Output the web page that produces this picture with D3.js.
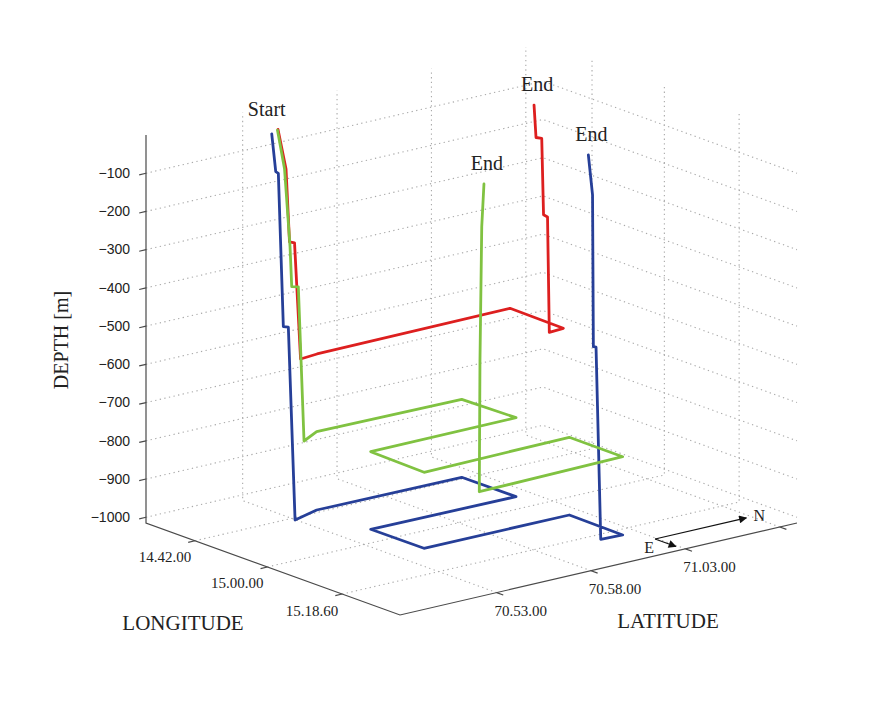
<!DOCTYPE html>
<html>
<head>
<meta charset="utf-8">
<script src="https://cdn.jsdelivr.net/npm/d3@7"></script>
<style>
  html, body { margin: 0; padding: 0; background: #fff; }
  svg { display: block; }
</style>
</head>
<body>
<svg id="chart" width="869" height="709"></svg>
<script>
// ---------------- DATA ----------------
// Axis domains (decimal degrees / metres)
const lonDomain = [14.4967, 15.55];
const latDomain = [70.798, 71.1485];
const depthDomain = [-1015, 0];

// Tick values and labels
const depthTicks = [-100, -200, -300, -400, -500, -600, -700, -800, -900, -1000];
const lonTicks = [14.7, 15.0, 15.31];
const lonTickLabels = ["14.42.00", "15.00.00", "15.18.60"];
const latTicks = [70 + 53 / 60, 70 + 58 / 60, 71 + 3 / 60, 71 + 8 / 60];
const latTickLabels = ["70.53.00", "70.58.00", "71.03.00", ""];

// Tracks: [longitude, latitude, depth]
const blueTrack = [
  [14.6602, 70.8742, -12], [14.6768, 70.8742, -107], [14.6876, 70.8742, -109],
  [14.7083, 70.8742, -505], [14.7291, 70.8742, -502], [14.7569, 70.8742, -1000],
  [14.7221, 70.9007, -1000], [14.7284, 71.0274, -1000], [14.9517, 71.0278, -1000],
  [14.9442, 70.9011, -1000], [15.1631, 70.9015, -1000], [15.1658, 71.0293, -1000],
  [15.3918, 71.0283, -1000], [15.3862, 71.0101, -1000],
  [15.3667, 71.0101, -502], [15.3556, 71.0101, -503], [15.3522, 71.0101, -107],
  [15.3348, 71.0101, -6]
];
const greenTrack = [
  [14.6437, 70.8828, -12], [14.6728, 70.8828, -106], [14.6957, 70.8828, -305],
  [14.7027, 70.8828, -408], [14.7301, 70.8828, -402], [14.7537, 70.8828, -800],
  [14.7093, 70.9034, -800], [14.7177, 71.0297, -800], [14.9340, 71.0316, -800],
  [14.9363, 70.9028, -800], [15.1664, 70.9009, -800], [15.1570, 71.0311, -800],
  [15.3789, 71.0310, -800], [15.3913, 70.9018, -800],
  [15.3941, 70.9018, -455], [15.3817, 70.9060, -112], [15.3857, 70.9071, 0]
];
const redTrack = [
  [14.6158, 70.8892, -21], [14.6490, 70.8892, -117], [14.6635, 70.8892, -304],
  [14.6843, 70.8892, -302], [14.7093, 70.8892, -600],
  [14.7010, 70.9055, -600], [14.6943, 71.0773, -600], [14.9201, 71.0763, -600],
  [14.9254, 71.0628, -600],
  [14.9180, 71.0628, -300], [14.9015, 71.0628, -298], [14.8940, 71.0628, -100],
  [14.8703, 71.0628, -103], [14.8621, 71.0628, -20]
];
const trackNames = ["blue", "red", "green"];
const trackColors = ["#263f98", "#dd1f1f", "#80c241"];

// Compass (on the floor): origin, north tip, east tip
const compassOrigin = [15.432, 71.0483];
const compassNorth = [15.432, 71.1289];
const compassEast = [15.5184, 71.0483];

// ---------------- PROJECTION ----------------
const uScale = d3.scaleLinear().domain(lonDomain).range([0, 1]);
const vScale = d3.scaleLinear().domain(latDomain).range([0, 1]);
const hScale = d3.scaleLinear().domain(depthDomain).range([0, 388]);
const O = [146, 523], EU = [254, 92], EV = [397, -92];
function proj(lon, lat, dep) {
  const u = uScale(lon), v = vScale(lat);
  return [O[0] + EU[0] * u + EV[0] * v, O[1] + EU[1] * u + EV[1] * v - hScale(dep)];
}

const svg = d3.select("#chart");
svg.append("rect").attr("width", 869).attr("height", 709).attr("fill", "#fff");

const line = d3.line();
const [lon0, lon1] = lonDomain, [lat0, lat1] = latDomain, [z0, z1] = depthDomain;

// ---------------- GRID ----------------
const grid = svg.append("g").attr("fill", "none").attr("stroke", "#a9a9a9")
  .attr("stroke-width", 1.1).attr("stroke-dasharray", "1.3,3.4");
const gridSegs = [];
depthTicks.forEach(d => {
  gridSegs.push([proj(lon0, lat0, d), proj(lon0, lat1, d), proj(lon1, lat1, d)]);
});
lonTicks.forEach(l => {
  gridSegs.push([proj(l, lat0, z0), proj(l, lat1, z0), proj(l, lat1, z1)]);
});
latTicks.forEach(l => {
  gridSegs.push([proj(lon1, l, z0), proj(lon0, l, z0), proj(lon0, l, z1)]);
});
grid.selectAll("path").data(gridSegs).join("path").attr("d", d => line(d));

// ---------------- AXES ----------------
const axes = svg.append("g").attr("fill", "none").attr("stroke", "#4a4a4a").attr("stroke-width", 1.2);
axes.append("path").attr("d", line([proj(lon0, lat0, z1), proj(lon0, lat0, z0), proj(lon1, lat0, z0), proj(lon1, lat1, z0)]));

const tickLen = 7;
const negV = [-EV[0], -EV[1]], nv = Math.hypot(negV[0], negV[1]);
const tdirV = [negV[0] / nv * tickLen, negV[1] / nv * tickLen];
const nu = Math.hypot(EU[0], EU[1]);
const tdirU = [EU[0] / nu * tickLen, EU[1] / nu * tickLen];

depthTicks.forEach(d => {
  const p = proj(lon0, lat0, d);
  axes.append("line").attr("x1", p[0]).attr("y1", p[1]).attr("x2", p[0] + tdirV[0]).attr("y2", p[1] + tdirV[1]);
});
lonTicks.forEach(l => {
  const p = proj(l, lat0, z0);
  axes.append("line").attr("x1", p[0]).attr("y1", p[1]).attr("x2", p[0] + tdirV[0]).attr("y2", p[1] + tdirV[1]);
});
latTicks.forEach(l => {
  const p = proj(lon1, l, z0);
  axes.append("line").attr("x1", p[0]).attr("y1", p[1]).attr("x2", p[0] + tdirU[0]).attr("y2", p[1] + tdirU[1]);
});

// tick labels
const labels = svg.append("g").attr("fill", "#222");
depthTicks.forEach(d => {
  const p = proj(lon0, lat0, d);
  labels.append("text").attr("x", p[0] - 16).attr("y", p[1] + 1)
    .attr("text-anchor", "end").attr("dominant-baseline", "middle")
    .attr("font-family", "Liberation Sans, Arial, sans-serif").attr("font-size", 14)
    .text(String(d).replace("-", "\u2212"));
});
lonTicks.forEach((l, i) => {
  const p = proj(l, lat0, z0);
  labels.append("text").attr("x", p[0] - 30).attr("y", p[1] + 21.5)
    .attr("text-anchor", "middle")
    .attr("font-family", "Liberation Serif, Times New Roman, serif").attr("font-size", 15)
    .text(lonTickLabels[i]);
});
latTicks.forEach((l, i) => {
  if (!latTickLabels[i]) return;
  const p = proj(lon1, l, z0);
  labels.append("text").attr("x", p[0] + 24).attr("y", p[1] + 23)
    .attr("text-anchor", "middle")
    .attr("font-family", "Liberation Serif, Times New Roman, serif").attr("font-size", 15)
    .text(latTickLabels[i]);
});

// axis titles
const serif = "Liberation Serif, Times New Roman, serif";
labels.append("text").attr("x", 183).attr("y", 630).attr("text-anchor", "middle")
  .attr("font-family", serif).attr("font-size", 21).text("LONGITUDE");
labels.append("text").attr("x", 668).attr("y", 628).attr("text-anchor", "middle")
  .attr("font-family", serif).attr("font-size", 21).text("LATITUDE");
labels.append("text").attr("transform", "translate(68,340) rotate(-90)").attr("text-anchor", "middle")
  .attr("font-family", serif).attr("font-size", 20).text("DEPTH [m]");

// ---------------- TRACKS ----------------
const tracks = [blueTrack, redTrack, greenTrack];
const tg = svg.append("g").attr("fill", "none").attr("stroke-width", 2.8)
  .attr("stroke-linejoin", "round").attr("stroke-linecap", "round");
tracks.forEach((t, i) => {
  tg.append("path").attr("class", "track-" + trackNames[i])
    .attr("stroke", trackColors[i])
    .attr("d", line(t.map(p => proj(p[0], p[1], p[2]))));
});

// Start / End labels
const s = blueTrack[0], sp = proj(s[0], s[1], s[2]);
labels.append("text").attr("x", sp[0] - 5).attr("y", sp[1] - 18).attr("text-anchor", "middle")
  .attr("font-family", serif).attr("font-size", 20).text("Start");
tracks.forEach(t => {
  const e = t[t.length - 1], ep = proj(e[0], e[1], e[2]);
  labels.append("text").attr("x", ep[0] + 3).attr("y", ep[1] - 14).attr("text-anchor", "middle")
    .attr("font-family", serif).attr("font-size", 20).text("End");
});

// ---------------- COMPASS ----------------
const defs = svg.append("defs");
defs.append("marker").attr("id", "arr").attr("viewBox", "0 0 10 10").attr("refX", 9).attr("refY", 5)
  .attr("markerWidth", 11).attr("markerHeight", 8).attr("markerUnits", "userSpaceOnUse").attr("orient", "auto")
  .append("path").attr("d", "M0,0 L10,5 L0,10 z").attr("fill", "#111");
const co = proj(compassOrigin[0], compassOrigin[1], z0);
const cn = proj(compassNorth[0], compassNorth[1], z0);
const ce = proj(compassEast[0], compassEast[1], z0);
const cg = svg.append("g").attr("stroke", "#111").attr("stroke-width", 1.2).attr("fill", "none");
cg.append("line").attr("x1", co[0]).attr("y1", co[1]).attr("x2", cn[0]).attr("y2", cn[1]).attr("marker-end", "url(#arr)");
cg.append("line").attr("x1", co[0]).attr("y1", co[1]).attr("x2", ce[0]).attr("y2", ce[1]).attr("marker-end", "url(#arr)");
labels.append("text").attr("x", cn[0] + 13).attr("y", cn[1] + 3).attr("text-anchor", "middle")
  .attr("font-family", serif).attr("font-size", 16).text("N");
labels.append("text").attr("x", co[0] - 6).attr("y", co[1] + 14).attr("text-anchor", "middle")
  .attr("font-family", serif).attr("font-size", 16).text("E");
</script>
</body>
</html>
